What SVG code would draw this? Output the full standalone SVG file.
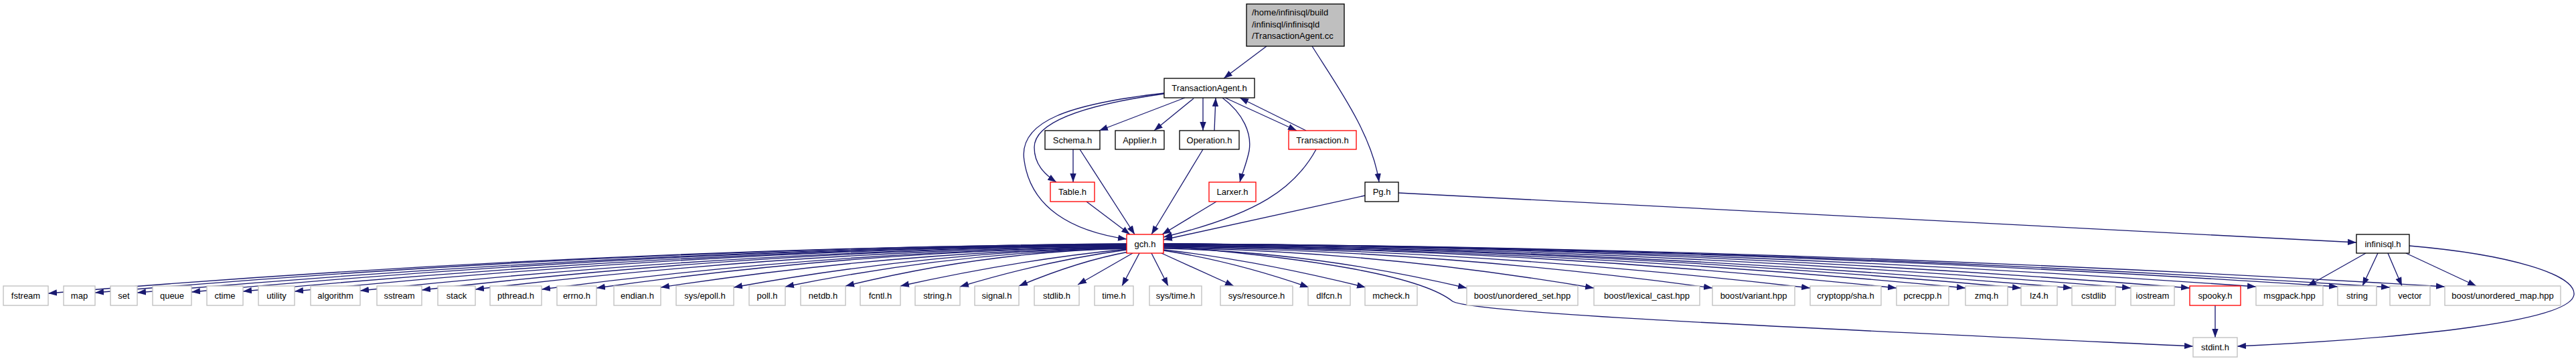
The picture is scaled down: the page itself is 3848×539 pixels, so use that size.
<svg xmlns="http://www.w3.org/2000/svg" width="3848" height="539" viewBox="0 0 3848 539">
<style>
text{font-family:"Liberation Sans",Arial,sans-serif;font-size:13px;fill:#000;text-anchor:middle}
.lt{text-anchor:start}
rect{fill:#fff;stroke-width:1.33}
.k rect{stroke:#000}
.g rect{stroke:#bfbfbf}
.r rect{stroke:#ff0000}
.root rect{fill:#bfbfbf;stroke:#000}
#edges path{fill:none;stroke:#191970;stroke-width:1.33;marker-end:url(#ah)}
</style>
<defs>
<marker id="ah" markerUnits="userSpaceOnUse" markerWidth="14" markerHeight="10" viewBox="0 0 14 10" refX="13" refY="5" orient="auto">
<path d="M0,0.3 L13,5 L0,9.7z" fill="#191970"/>
</marker>
</defs>
<rect x="0" y="0" width="3848" height="539" style="fill:#fff;stroke:none"/>
<g id="edges">
<path d="M1892,69 L1828,117"/>
<path d="M1960,69 C1995,125 2050,200 2060,272"/>
<path d="M1770,146 L1642,195"/>
<path d="M1783,147 L1724,195"/>
<path d="M1797,146 L1797,195"/>
<path d="M1814,195 L1816,146"/>
<path d="M1830,146 L1937,195"/>
<path d="M1951,195 L1852,146"/>
<path d="M1826,146 C1858,170 1870,200 1866,225 C1862,245 1855,260 1852,272"/>
<path d="M1739,140 C1610,158 1545,185 1545,220 C1545,245 1560,260 1578,272"/>
<path d="M1739,139 C1600,155 1520,180 1530,240 C1540,310 1600,345 1683,357"/>
<path d="M1603,223 L1603,272"/>
<path d="M1613,223 L1695,350"/>
<path d="M1623,301 L1688,350"/>
<path d="M1797,223 L1720,350"/>
<path d="M1817,301 L1736,350"/>
<path d="M1966,223 C1935,280 1880,320 1738,354"/>
<path d="M2039,292 L1738,358"/>
<path d="M2089,288 L3520,362"/>
<path d="M1683,364 C1151,368 604,394 72,438"/>
<path d="M1683,364 C1175,368 651,393 142,437"/>
<path d="M1683,365 C1195,369 693,394 205,437"/>
<path d="M1683,365 C1222,369 747,393 286,436"/>
<path d="M1683,366 C1247,369 799,394 363,435"/>
<path d="M1683,366 C1273,369 850,394 440,435"/>
<path d="M1683,367 C1305,370 916,394 538,434"/>
<path d="M1683,367 C1336,370 978,393 630,433"/>
<path d="M1683,368 C1362,371 1031,394 710,432"/>
<path d="M1683,369 C1395,372 1097,394 809,432"/>
<path d="M1683,369 C1422,372 1152,393 891,430"/>
<path d="M1683,370 C1453,373 1217,394 987,429"/>
<path d="M1683,370 C1489,373 1290,394 1096,429"/>
<path d="M1683,371 C1515,374 1341,394 1173,428"/>
<path d="M1683,371 C1544,374 1402,393 1263,427"/>
<path d="M1683,372 C1570,383 1458,402 1345,427"/>
<path d="M1683,373 C1600,384 1517,403 1434,428"/>
<path d="M1686,376 C1631,386 1577,404 1522,427"/>
<path d="M1692,378 L1610,425"/>
<path d="M1702,378 L1676,427"/>
<path d="M1720,378 L1745,427"/>
<path d="M1735,378 L1843,427"/>
<path d="M1738,374 C1810,385 1883,404 1955,429"/>
<path d="M1738,373 C1839,384 1939,404 2040,429"/>
<path d="M1738,371 C1887,374 2042,395 2191,430"/>
<path d="M1738,370 C1950,373 2169,394 2381,430"/>
<path d="M1738,369 C2009,372 2287,393 2558,430"/>
<path d="M1738,368 C2057,371 2385,393 2704,430"/>
<path d="M1738,367 C2099,370 2472,392 2833,430"/>
<path d="M1738,367 C2133,370 2541,392 2936,430"/>
<path d="M1738,366 C2161,369 2596,392 3019,430"/>
<path d="M1738,366 C2186,369 2647,392 3095,430"/>
<path d="M1738,365 C2215,368 2706,391 3183,430"/>
<path d="M1738,364 C2244,367 2765,390 3271,430"/>
<path d="M1738,364 C2277,367 2831,390 3370,428"/>
<path d="M1738,364 C2317,367 2913,390 3492,428"/>
<path d="M1738,364 C2343,367 2965,390 3570,429"/>
<path d="M1738,364 C2370,367 3020,390 3652,428"/>
<path d="M1738,367 C1950,385 2120,410 2170,450 C2200,468 2700,490 3276,517"/>
<path d="M3309,456 L3309,504"/>
<path d="M3534,378 L3447,427"/>
<path d="M3552,378 L3529,427"/>
<path d="M3567,378 L3588,427"/>
<path d="M3594,378 L3699,427"/>
<path d="M3599,367 C3750,380 3848,410 3845,440 C3840,480 3600,505 3342,517"/>
</g>
<g id="n_root" class="root"><rect x="1862" y="6" width="146" height="63"/><text class="lt" x="1870" y="23">/home/infinisql/build</text><text class="lt" x="1870" y="41">/infinisql/infinisqld</text><text class="lt" x="1870" y="58">/TransactionAgent.cc</text></g>
<g id="n_TransactionAgent_h" class="k"><rect x="1739" y="117" width="135" height="29"/><text x="1806.5" y="136">TransactionAgent.h</text></g>
<g id="n_Schema_h" class="k"><rect x="1561" y="195" width="82" height="28"/><text x="1602" y="214">Schema.h</text></g>
<g id="n_Applier_h" class="k"><rect x="1666" y="195" width="73" height="28"/><text x="1702.5" y="214">Applier.h</text></g>
<g id="n_Operation_h" class="k"><rect x="1762" y="195" width="89" height="28"/><text x="1806.5" y="214">Operation.h</text></g>
<g id="n_Transaction_h" class="r"><rect x="1925" y="195" width="101" height="28"/><text x="1975.5" y="214">Transaction.h</text></g>
<g id="n_Table_h" class="r"><rect x="1569" y="272" width="66" height="29"/><text x="1602" y="291">Table.h</text></g>
<g id="n_Larxer_h" class="r"><rect x="1806" y="272" width="70" height="29"/><text x="1841" y="291">Larxer.h</text></g>
<g id="n_Pg_h" class="k"><rect x="2039" y="272" width="50" height="29"/><text x="2064" y="291">Pg.h</text></g>
<g id="n_gch_h" class="r"><rect x="1683" y="350" width="55" height="28"/><text x="1710.5" y="369">gch.h</text></g>
<g id="n_infinisql_h" class="k"><rect x="3520" y="350" width="79" height="28"/><text x="3559.5" y="369">infinisql.h</text></g>
<g id="n_fstream" class="g"><rect x="5" y="427" width="67" height="29"/><text x="38.5" y="446">fstream</text></g>
<g id="n_map" class="g"><rect x="95" y="427" width="47" height="29"/><text x="118.5" y="446">map</text></g>
<g id="n_set" class="g"><rect x="165" y="427" width="40" height="29"/><text x="185" y="446">set</text></g>
<g id="n_queue" class="g"><rect x="228" y="427" width="58" height="29"/><text x="257" y="446">queue</text></g>
<g id="n_ctime" class="g"><rect x="309" y="427" width="54" height="29"/><text x="336" y="446">ctime</text></g>
<g id="n_utility" class="g"><rect x="386" y="427" width="54" height="29"/><text x="413" y="446">utility</text></g>
<g id="n_algorithm" class="g"><rect x="464" y="427" width="74" height="29"/><text x="501" y="446">algorithm</text></g>
<g id="n_sstream" class="g"><rect x="563" y="427" width="67" height="29"/><text x="596.5" y="446">sstream</text></g>
<g id="n_stack" class="g"><rect x="654" y="427" width="56" height="29"/><text x="682" y="446">stack</text></g>
<g id="n_pthread_h" class="g"><rect x="732" y="427" width="77" height="29"/><text x="770.5" y="446">pthread.h</text></g>
<g id="n_errno_h" class="g"><rect x="832" y="427" width="59" height="29"/><text x="861.5" y="446">errno.h</text></g>
<g id="n_endian_h" class="g"><rect x="917" y="427" width="70" height="29"/><text x="952" y="446">endian.h</text></g>
<g id="n_sys_epoll_h" class="g"><rect x="1010" y="427" width="86" height="29"/><text x="1053" y="446">sys/epoll.h</text></g>
<g id="n_poll_h" class="g"><rect x="1119" y="427" width="54" height="29"/><text x="1146" y="446">poll.h</text></g>
<g id="n_netdb_h" class="g"><rect x="1196" y="427" width="67" height="29"/><text x="1229.5" y="446">netdb.h</text></g>
<g id="n_fcntl_h" class="g"><rect x="1285" y="427" width="60" height="29"/><text x="1315" y="446">fcntl.h</text></g>
<g id="n_string_h" class="g"><rect x="1367" y="427" width="67" height="29"/><text x="1400.5" y="446">string.h</text></g>
<g id="n_signal_h" class="g"><rect x="1456" y="427" width="66" height="29"/><text x="1489" y="446">signal.h</text></g>
<g id="n_stdlib_h" class="g"><rect x="1545" y="427" width="67" height="29"/><text x="1578.5" y="446">stdlib.h</text></g>
<g id="n_time_h" class="g"><rect x="1635" y="427" width="58" height="29"/><text x="1664" y="446">time.h</text></g>
<g id="n_sys_time_h" class="g"><rect x="1717" y="427" width="78" height="29"/><text x="1756" y="446">sys/time.h</text></g>
<g id="n_sys_resource_h" class="g"><rect x="1823" y="427" width="108" height="29"/><text x="1877" y="446">sys/resource.h</text></g>
<g id="n_dlfcn_h" class="g"><rect x="1954" y="427" width="63" height="29"/><text x="1985.5" y="446">dlfcn.h</text></g>
<g id="n_mcheck_h" class="g"><rect x="2039" y="427" width="78" height="29"/><text x="2078" y="446">mcheck.h</text></g>
<g id="n_boost_unordered_set" class="g"><rect x="2191" y="427" width="166" height="29"/><text x="2274" y="446">boost/unordered_set.hpp</text></g>
<g id="n_boost_lexical_cast" class="g"><rect x="2381" y="427" width="158" height="29"/><text x="2460" y="446">boost/lexical_cast.hpp</text></g>
<g id="n_boost_variant" class="g"><rect x="2558" y="427" width="123" height="29"/><text x="2619.5" y="446">boost/variant.hpp</text></g>
<g id="n_cryptopp_sha" class="g"><rect x="2704" y="427" width="106" height="29"/><text x="2757" y="446">cryptopp/sha.h</text></g>
<g id="n_pcrecpp_h" class="g"><rect x="2833" y="427" width="78" height="29"/><text x="2872" y="446">pcrecpp.h</text></g>
<g id="n_zmq_h" class="g"><rect x="2936" y="427" width="63" height="29"/><text x="2967.5" y="446">zmq.h</text></g>
<g id="n_lz4_h" class="g"><rect x="3019" y="427" width="54" height="29"/><text x="3046" y="446">lz4.h</text></g>
<g id="n_cstdlib" class="g"><rect x="3095" y="427" width="65" height="29"/><text x="3127.5" y="446">cstdlib</text></g>
<g id="n_iostream" class="g"><rect x="3183" y="427" width="65" height="29"/><text x="3215.5" y="446">iostream</text></g>
<g id="n_spooky_h" class="r"><rect x="3271" y="427" width="76" height="29"/><text x="3309" y="446">spooky.h</text></g>
<g id="n_msgpack_hpp" class="g"><rect x="3370" y="427" width="100" height="29"/><text x="3420" y="446">msgpack.hpp</text></g>
<g id="n_string" class="g"><rect x="3492" y="427" width="58" height="29"/><text x="3521" y="446">string</text></g>
<g id="n_vector" class="g"><rect x="3570" y="427" width="60" height="29"/><text x="3600" y="446">vector</text></g>
<g id="n_boost_unordered_map" class="g"><rect x="3652" y="427" width="173" height="29"/><text x="3738.5" y="446">boost/unordered_map.hpp</text></g>
<g id="n_stdint_h" class="g"><rect x="3276" y="504" width="66" height="29"/><text x="3309" y="523">stdint.h</text></g>
</svg>
